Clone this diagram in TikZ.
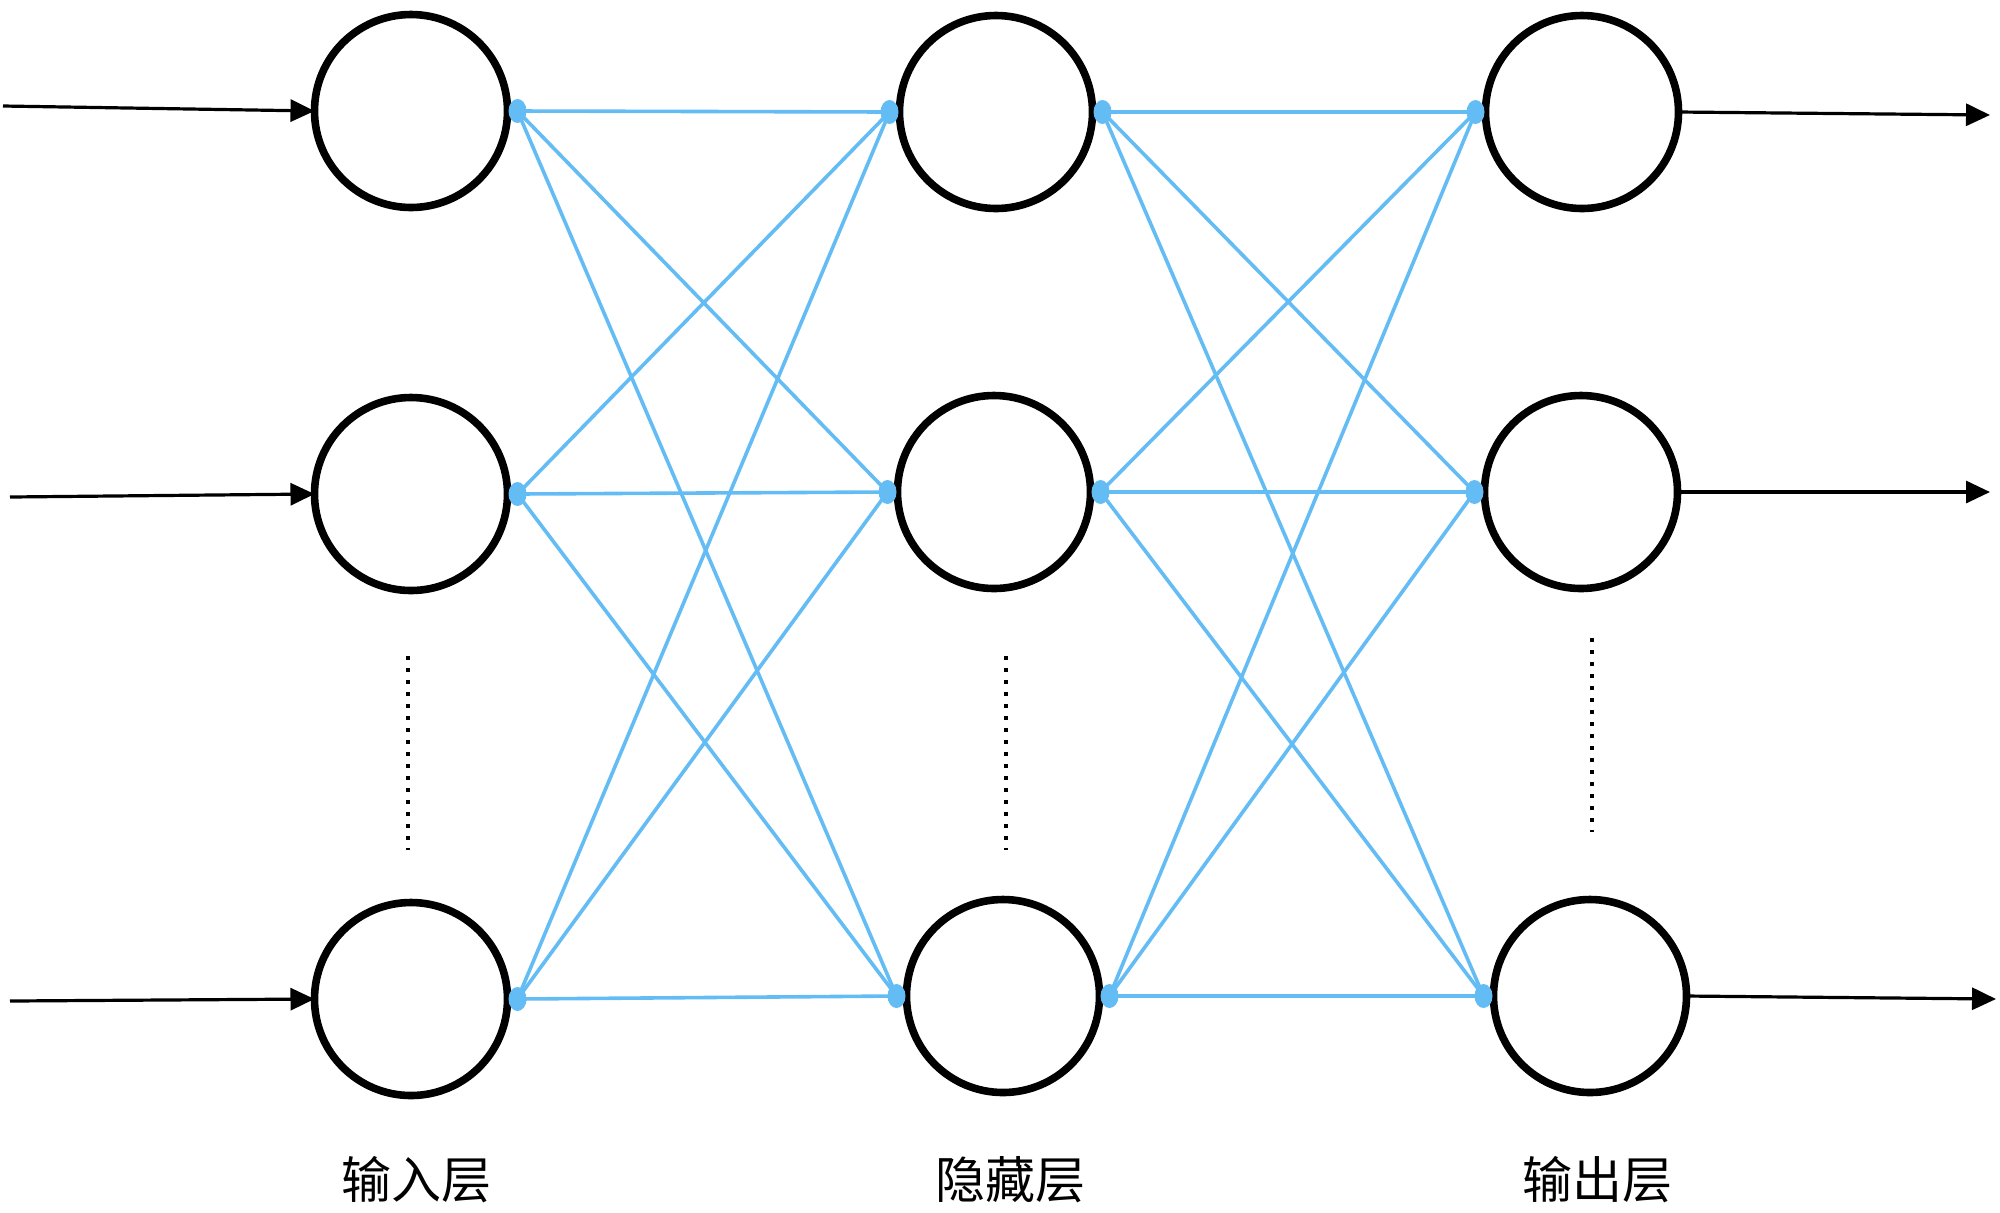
\documentclass[tikz,border=0pt]{standalone}
\usepackage{fontspec}
\newfontfamily\cjk{Noto Sans CJK SC}
\usetikzlibrary{arrows.meta}
\definecolor{linkblue}{RGB}{100,188,245}
\tikzset{
  neuron/.style={circle,draw=black,line width=3.8pt,minimum size=96.5pt,inner sep=0pt,outer sep=0pt},
  link/.style={draw=linkblue,line width=1.8pt},
  iolink/.style={draw=black,line width=1.6pt,-{Triangle[length=12pt,width=11pt]}},
  ellip/.style={draw=black,line width=2.2pt,dash pattern=on 2.2pt off 3.8pt},
  layerlabel/.style={font=\cjk\fontsize{25pt}{30pt}\selectfont,inner sep=0pt}
}
\begin{document}
\begin{tikzpicture}[x=0.5pt,y=-0.5pt]
\useasboundingbox[fill=white] (0,0) rectangle (2000,1212);
% neurons
\node[neuron] (i1) at (411,111) {};
\node[neuron] (i2) at (411,494) {};
\node[neuron] (i3) at (411,999) {};
\node[neuron] (h1) at (996,112) {};
\node[neuron] (h2) at (994,492) {};
\node[neuron] (h3) at (1003,996) {};
\node[neuron] (o1) at (1582,112) {};
\node[neuron] (o2) at (1581,492) {};
\node[neuron] (o3) at (1590,996) {};
% blue links
\foreach \a in {i1,i2,i3}{
  \foreach \b in {h1,h2,h3}{
    \draw[link] ([xshift=5pt]\a.east) -- ([xshift=-5pt]\b.west);
  }
}
\foreach \a in {h1,h2,h3}{
  \foreach \b in {o1,o2,o3}{
    \draw[link] ([xshift=5pt]\a.east) -- ([xshift=-5pt]\b.west);
  }
}
\foreach \a in {i1,i2,i3,h1,h2,h3}{
  \fill[linkblue] ([xshift=5pt]\a.east) ellipse (4.5pt and 6pt);
}
\foreach \b in {h1,h2,h3,o1,o2,o3}{
  \fill[linkblue] ([xshift=-5pt]\b.west) ellipse (4.5pt and 6pt);
}
% input arrows
\coordinate (in1) at (3,106);
\coordinate (in2) at (10,497);
\coordinate (in3) at (10,1001);
\draw[iolink] (in1) -- (i1.west);
\draw[iolink] (in2) -- (i2.west);
\draw[iolink] (in3) -- (i3.west);
% output arrows
\coordinate (out1) at (1990,115);
\coordinate (out2) at (1990,492);
\coordinate (out3) at (1996,999);
\draw[iolink] (o1.east) -- (out1);
\draw[iolink] (o2.east) -- (out2);
\draw[iolink] (o3.east) -- (out3);
% ellipses
\coordinate (d1a) at (408,656);
\coordinate (d1b) at (408,850);
\coordinate (d2a) at (1006,656);
\coordinate (d2b) at (1006,850);
\coordinate (d3a) at (1592,638);
\coordinate (d3b) at (1592,832);
\draw[ellip] (d1a) -- (d1b);
\draw[ellip] (d2a) -- (d2b);
\draw[ellip] (d3a) -- (d3b);
% labels
\node[layerlabel] (l1) at (416,1180) {输入层};
\node[layerlabel] (l2) at (1010,1180) {隐藏层};
\node[layerlabel] (l3) at (1597,1180) {输出层};
\end{tikzpicture}
\end{document}
